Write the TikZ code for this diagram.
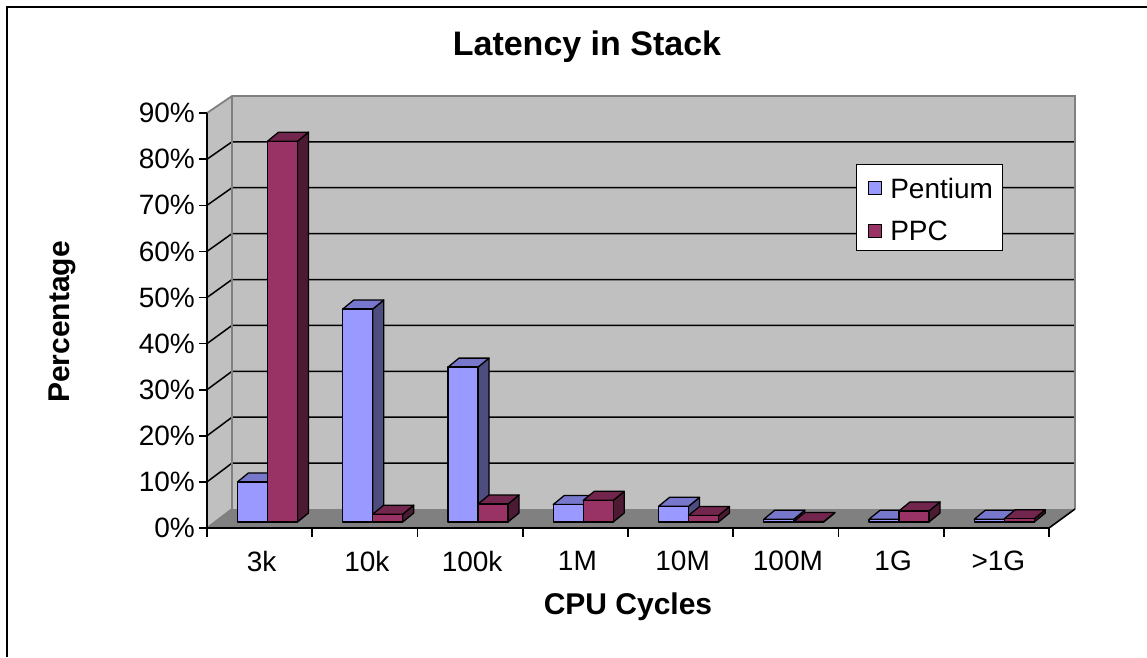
\documentclass[tikz,border=0pt]{standalone}
\usepackage{fontspec}
\setmainfont{Liberation Sans}
\usetikzlibrary{positioning}
\definecolor{wallgray}{HTML}{C0C0C0}
\definecolor{floorgray}{HTML}{808080}
\definecolor{wallline}{HTML}{808080}
\definecolor{pentfront}{HTML}{9999FF}
\definecolor{penttop}{HTML}{7777CC}
\definecolor{pentside}{HTML}{4D4D80}
\definecolor{ppcfront}{HTML}{993366}
\definecolor{ppctop}{HTML}{73264D}
\definecolor{ppcside}{HTML}{4D1A33}
% one 3D column: left x, top y, front, top and side colours
\newcommand\cpubar[5]{%
  \filldraw[barface,fill=#5] (#1+30,522) -- (#1+41,513) -- (#1+41,#2-9) -- (#1+30,#2) -- cycle;
  \filldraw[barface,fill=#4] (#1,#2) -- (#1+11,#2-9) -- (#1+41,#2-9) -- (#1+30,#2) -- cycle;
  \filldraw[barface,fill=#3] (#1,522) rectangle (#1+30,#2);}
\begin{document}
\begin{tikzpicture}[x=1pt,y=-1pt,
    gridline/.style={line width=1.5pt},
    walledge/.style={draw=wallline,line width=1.8pt},
    barface/.style={draw=black,line width=1.3pt,line join=round},
    ticklabel/.style={font=\fontsize{28}{32}\selectfont,inner sep=0pt},
    axistitle/.style={font=\fontsize{30}{34}\selectfont\bfseries,inner sep=0pt}]
	\useasboundingbox (0,0) rectangle (1147,657);
	\draw[line width=2.2pt] (7,657) |- (1147,7);
	% walls and floor
	\coordinate (F0) at (207,528);
	\coordinate (F1) at (1049,528);
	\coordinate (B0) at (232,509);
	\coordinate (B1) at (1075,509);
	\coordinate (T0) at (232,96);
	\coordinate (T1) at (1075,96);
	\coordinate (S0) at (207,113);
	\fill[wallgray] (S0)--(T0)--(T1)--(B1)--(B0)--(F0)--cycle;
	\fill[floorgray] (F0)--(B0)--(B1)--(F1)--cycle;
	\foreach \k in {1,...,8}
		\draw[gridline] (207,{528-46.1*\k}) -- (232,{509-45.9*\k}) -- (1075,{509-45.9*\k});
	\draw[walledge] (S0)--(T0)--(T1)--(B1);
	\draw[walledge] (T0)--(B0)--(F0);
	% axes
	\draw[line width=1.6pt] (S0)--(F0)--(F1)--(B1);
	\foreach \lab [count=\k from 0] in {0,10,20,30,40,50,60,70,80,90}{
		\draw[line width=1.6pt] (207,{528-46.1*\k}) -- (199,{528-46.1*\k});
		\node[ticklabel,anchor=east] (ytick\k) at (195,{528-46.1*\k}) {\lab\%};
	}
	\foreach \k in {0,...,8}
		\draw[line width=1.6pt] ({207+105.25*\k},528) -- ({207+105.25*\k},537);
	\foreach \lab [count=\k from 0] in {3k,10k,100k,1M,10M,100M,1G,>1G}
		\node[ticklabel] (xtick\k) at ({209+105.25*(\k+0.5)},561) {\lab};
	% columns
	\foreach \k/\vp/\vq in {0/8.7/82.6,1/46.2/1.7,2/33.6/3.9,3/3.8/4.7,4/3.4/1.4,5/0.6/0.1,6/0.6/2.4,7/0.6/0.7}{
		\pgfmathsetmacro\xa{237.5+105.25*\k}
		\pgfmathsetmacro\ya{522-4.61*\vp}
		\pgfmathsetmacro\xb{\xa+30}
		\pgfmathsetmacro\yb{522-4.61*\vq}
		\cpubar{\xa}{\ya}{pentfront}{penttop}{pentside}
		\cpubar{\xb}{\yb}{ppcfront}{ppctop}{ppcside}
	}
	% legend
	\node[draw,fill=white,line width=1.3pt,minimum width=146pt,minimum height=86pt,anchor=north west] (legend) at (856,164) {};
	\node[draw,fill=pentfront,line width=1.2pt,minimum size=13pt,inner sep=0pt] (mkpent) at (875,188) {};
	\node[ticklabel,right=8pt of mkpent] (lbpent) {Pentium};
	\node[draw,fill=ppcfront,line width=1.2pt,minimum size=13pt,inner sep=0pt] (mkppc) at (875,231) {};
	\node[ticklabel,right=8pt of mkppc] (lbppc) {PPC};
	% titles
	\node[font=\fontsize{34}{38}\selectfont\bfseries,inner sep=0pt] (title) at (587,47) {Latency in Stack};
	\node[axistitle] (xtitle) at (628,607) {CPU Cycles};
	\node[axistitle,rotate=90] (ytitle) at (62,322) {Percentage};
\end{tikzpicture}
\end{document}
